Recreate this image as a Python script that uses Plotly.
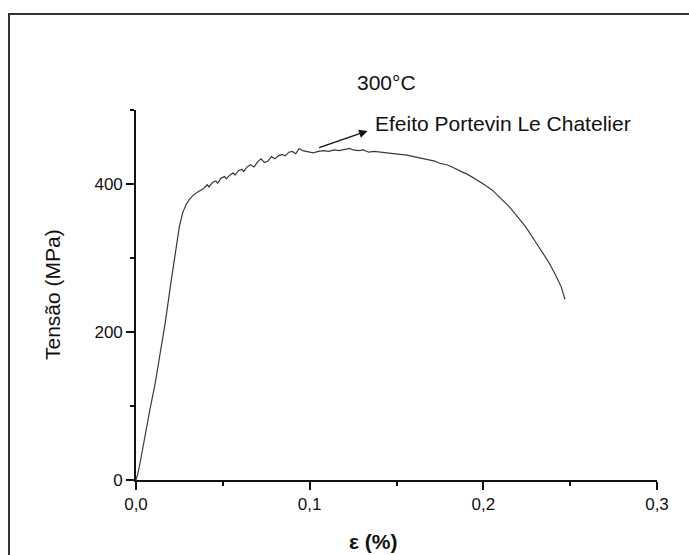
import plotly.graph_objects as go

# Tensile test at 300 °C: strain (%) vs. stress (MPa)
strain = [
    0.0000, 0.0010, 0.0025, 0.0050, 0.0080, 0.0110, 0.0140, 0.0170, 0.0200,
    0.0225, 0.0250, 0.0270, 0.0290, 0.0310, 0.0330, 0.0360, 0.0390, 0.0410,
    0.0420, 0.0440, 0.0460, 0.0470, 0.0490, 0.0510, 0.0520, 0.0540, 0.0560,
    0.0570, 0.0590, 0.0610, 0.0620, 0.0640, 0.0660, 0.0680, 0.0700, 0.0720,
    0.0740, 0.0760, 0.0780, 0.0800, 0.0820, 0.0840, 0.0860, 0.0880, 0.0900,
    0.0920, 0.0940, 0.0960, 0.0990, 0.1020, 0.1050, 0.1080, 0.1110, 0.1140,
    0.1170, 0.1200, 0.1230, 0.1250, 0.1280, 0.1310, 0.1340, 0.1370, 0.1400,
    0.1430, 0.1460, 0.1490, 0.1520, 0.1560, 0.1600, 0.1640, 0.1680, 0.1720,
    0.1750, 0.1790, 0.1820, 0.1850, 0.1880, 0.1910, 0.1940, 0.1970, 0.2000,
    0.2050, 0.2100, 0.2150, 0.2200, 0.2250, 0.2300, 0.2340, 0.2380, 0.2420,
    0.2450, 0.2470,
]
stress = [
    0, 8, 25, 58, 95, 130, 170, 215, 265,
    305, 343, 362, 373, 380, 385, 390, 394, 399,
    396, 402, 404, 401, 408, 410, 407, 412, 415,
    412, 418, 420, 417, 423, 426, 423, 430, 434,
    429, 431, 437, 434, 438, 440, 438, 443, 444,
    441, 448, 445, 443, 442, 444, 445, 444, 446,
    445, 447, 448, 446, 445, 446, 443, 444, 443,
    442, 441, 441, 440, 439, 437, 436, 433, 431,
    428, 426, 423, 419, 416, 413, 409, 405, 400,
    392, 381, 369, 355, 340, 322, 308, 293, 275,
    260, 244,
]

x_ticks = [0.0, 0.1, 0.2, 0.3]
x_tick_labels = ["0,0", "0,1", "0,2", "0,3"]
y_ticks = [0, 200, 400]
y_tick_labels = ["0", "200", "400"]

FONT = "Liberation Sans, Arial, sans-serif"

fig = go.Figure()
fig.add_trace(go.Scatter(
    x=strain, y=stress, mode="lines",
    line=dict(color="#3a3a3a", width=1.2),
    showlegend=False, hoverinfo="skip",
))

axis_common = dict(
    showline=True, linecolor="#111", linewidth=1.6,
    ticks="outside", ticklen=8, tickwidth=1.6, tickcolor="#111",
    showgrid=False, zeroline=False,
    tickfont=dict(family=FONT, size=17, color="#111"),
)

fig.update_xaxes(
    range=[0, 0.3], tickvals=x_ticks, ticktext=x_tick_labels,
    minor=dict(dtick=0.05, ticks="outside", ticklen=4, tickwidth=1.6, tickcolor="#111"),
    **axis_common,
)
fig.update_yaxes(
    range=[0, 500], tickvals=y_ticks, ticktext=y_tick_labels,
    minor=dict(dtick=100, ticks="outside", ticklen=4, tickwidth=1.6, tickcolor="#111"),
    **axis_common,
)

# plot-area geometry in pixels (used to place free text in paper units)
L, R, T, B = 136, 32, 110, 75
W, H = 689, 555
PW, PH = W - L - R, H - T - B


def px_x(px):
    return (px - L) / PW


def px_y(py):
    return (H - B - py) / PH


centered = dict(xref="paper", yref="paper", xanchor="center", yanchor="middle",
                showarrow=False)

annotations = [
    dict(text="300°C", x=px_x(386), y=px_y(82),
         font=dict(family=FONT, size=21, color="#111"), **centered),
    dict(text="Tensão (MPa)", x=px_x(52), y=0.5, textangle=-90,
         font=dict(family=FONT, size=21, color="#111"), **centered),
    dict(text="<b>ε (%)</b>", x=px_x(373), y=px_y(541),
         font=dict(family=FONT, size=21, color="#111"), **centered),
    dict(text="Efeito Portevin Le Chatelier", x=0.1362, y=482, xref="x", yref="y",
         xanchor="left", yanchor="middle", showarrow=False,
         font=dict(family=FONT, size=21, color="#111")),
    dict(text="", x=0.1333, y=471.6, ax=0.1046, ay=448.6, xref="x", yref="y",
         axref="x", ayref="y", showarrow=True, arrowhead=2, arrowsize=1.3,
         arrowwidth=1.3, arrowcolor="#111"),
]

# open frame along the left and top of the figure
frame = dict(
    type="path", xref="paper", yref="paper",
    path=f"M {px_x(W + 20)} {px_y(14)} L {px_x(9)} {px_y(14)} L {px_x(9)} {px_y(H + 20)}",
    line=dict(color="#333", width=2),
)

fig.update_layout(
    width=W, height=H,
    margin=dict(l=L, r=R, t=T, b=B),
    paper_bgcolor="white", plot_bgcolor="white",
    annotations=annotations,
    shapes=[frame],
)

fig.write_html("out.html")
